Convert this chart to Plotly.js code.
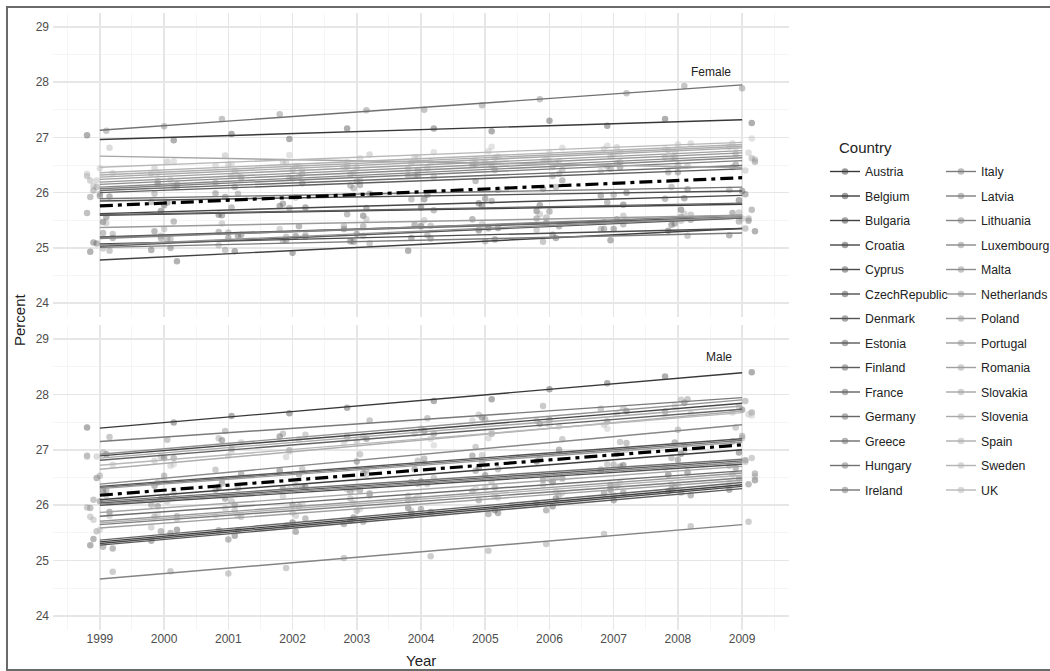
<!DOCTYPE html>
<html>
<head>
<meta charset="utf-8">
<script src="https://cdn.plot.ly/plotly-3.0.1.min.js"></script>
<style>
html,body{margin:0;padding:0;background:#fff;}
#chart{width:1050px;height:671px;}
</style>
</head>
<body>
<div id="chart"></div>
<script>
// ---------------- DATA ----------------
const years = [1999, 2000, 2001, 2002, 2003, 2004, 2005, 2006, 2007, 2008, 2009];
const yTicks = [24, 25, 26, 27, 28, 29];
const countries = ["Austria","Belgium","Bulgaria","Croatia","Cyprus","CzechRepublic","Denmark","Estonia","Finland","France","Germany","Greece","Hungary","Ireland","Italy","Latvia","Lithuania","Luxembourg","Malta","Netherlands","Poland","Portugal","Romania","Slovakia","Slovenia","Spain","Sweden","UK"];

// fitted trend line per country, value at 1999 and at 2009
const femaleFit1999 = [26.96,25.59,24.78,25.62,25.07,25.85,25.20,25.03,26.00,25.60,25.19,26.04,27.13,25.89,25.01,26.07,25.17,26.10,26.15,25.05,26.19,25.37,26.24,26.66,26.28,26.32,26.36,26.46];
const femaleFit2009 = [27.32,25.79,25.35,25.95,25.35,26.03,25.56,25.54,26.43,25.81,25.54,26.49,27.95,26.10,25.27,26.58,25.59,26.63,26.67,25.56,26.72,25.59,26.76,26.45,26.81,26.84,26.87,26.91];
const maleFit1999 = [27.39,26.10,25.34,26.89,25.31,26.00,26.34,25.28,26.04,26.81,25.37,25.80,26.32,26.07,27.15,25.65,24.67,26.38,26.02,26.92,25.71,26.30,25.59,25.87,26.85,26.65,25.68,26.72];
const maleFit2009 = [28.39,27.00,26.37,27.84,26.34,26.74,27.20,26.30,26.80,27.73,26.41,26.62,27.17,26.83,27.94,26.49,25.65,27.45,26.77,27.90,26.58,27.14,26.45,26.70,27.79,27.70,26.54,27.67];

// overall (mean) trend line, 1999 and 2009
const femaleMeanFit = [25.76, 26.27];
const maleMeanFit = [26.18, 27.09];

// observed values, one row per country (1999..2009)
const femaleValues = [
 [27.04,26.95,27.06,26.97,27.16,27.16,27.11,27.30,27.21,27.33,27.26],
 [25.47,25.67,25.60,25.73,25.58,25.73,25.81,25.67,25.78,25.69,25.86],
 [24.93,24.76,24.94,24.91,25.12,24.95,25.15,25.24,25.14,25.31,25.30],
 [25.56,25.77,25.59,25.76,25.72,25.88,25.77,25.77,26.00,25.90,26.03],
 [25.10,24.96,25.22,25.21,25.11,25.18,25.36,25.18,25.34,25.42,25.23],
 [25.93,25.82,25.92,25.80,25.98,25.96,25.89,26.07,25.95,26.06,25.97],
 [25.08,25.30,25.24,25.39,25.25,25.42,25.52,25.39,25.52,25.44,25.63],
 [25.18,25.00,25.18,25.14,25.34,25.17,25.37,25.45,25.34,25.51,25.49],
 [25.94,26.16,25.99,26.17,26.14,26.31,26.21,26.22,26.46,26.37,26.51],
 [25.63,25.48,25.73,25.72,25.61,25.68,25.85,25.66,25.82,25.89,25.69],
 [25.27,25.18,25.29,25.20,25.39,25.39,25.33,25.53,25.43,25.56,25.48],
 [25.92,26.15,26.10,26.26,26.13,26.31,26.41,26.30,26.43,26.37,26.56],
 [27.12,27.20,27.33,27.42,27.49,27.50,27.58,27.69,27.80,27.93,27.89],
 [26.04,25.83,25.98,25.91,26.08,25.88,26.05,26.10,25.96,26.10,26.05],
 [24.95,25.16,24.96,25.13,25.08,25.23,25.12,25.11,25.34,25.22,25.35],
 [26.10,25.98,26.26,26.28,26.20,26.30,26.50,26.34,26.53,26.63,26.46],
 [25.25,25.16,25.28,25.20,25.40,25.40,25.35,25.55,25.47,25.60,25.53],
 [25.98,26.21,26.18,26.34,26.22,26.41,26.52,26.41,26.55,26.50,26.70],
 [26.30,26.12,26.30,26.27,26.47,26.29,26.49,26.57,26.47,26.64,26.62],
 [24.99,25.22,25.05,25.24,25.22,25.40,25.31,25.33,25.58,25.49,25.64],
 [26.22,26.10,26.39,26.41,26.33,26.43,26.63,26.47,26.66,26.77,26.60],
 [25.45,25.34,25.44,25.34,25.52,25.50,25.43,25.61,25.51,25.62,25.53],
 [26.12,26.35,26.31,26.48,26.36,26.54,26.65,26.54,26.69,26.63,26.83],
 [26.81,26.56,26.67,26.56,26.69,26.44,26.56,26.57,26.39,26.49,26.40],
 [26.22,26.45,26.29,26.48,26.46,26.64,26.55,26.57,26.82,26.74,26.89],
 [26.35,26.23,26.51,26.54,26.46,26.55,26.75,26.59,26.79,26.89,26.72],
 [26.44,26.36,26.49,26.41,26.62,26.64,26.60,26.81,26.73,26.87,26.81],
 [26.34,26.57,26.52,26.68,26.55,26.73,26.83,26.72,26.85,26.79,26.98]
];
const maleValues = [
 [27.40,27.49,27.61,27.66,27.76,27.88,27.91,28.09,28.20,28.32,28.40],
 [26.25,26.11,26.33,26.33,26.57,26.43,26.67,26.79,26.72,26.93,26.95],
 [25.28,25.56,25.45,25.69,25.72,25.95,25.91,25.98,26.28,26.25,26.45],
 [26.92,26.85,27.17,27.24,27.20,27.34,27.58,27.47,27.70,27.85,27.72],
 [25.39,25.36,25.55,25.52,25.78,25.85,25.86,26.12,26.09,26.29,26.28],
 [25.88,26.13,26.12,26.30,26.21,26.41,26.54,26.46,26.62,26.59,26.81],
 [26.49,26.35,26.56,26.56,26.79,26.65,26.89,27.00,26.93,27.13,27.15],
 [25.22,25.50,25.38,25.63,25.66,25.88,25.84,25.91,26.22,26.18,26.38],
 [26.07,25.98,26.28,26.33,26.27,26.39,26.62,26.48,26.70,26.82,26.68],
 [26.89,26.85,27.02,26.99,27.24,27.29,27.29,27.54,27.51,27.69,27.67],
 [25.25,25.53,25.55,25.76,25.70,25.93,26.09,26.04,26.23,26.23,26.48],
 [25.95,25.80,26.01,26.01,26.24,26.09,26.32,26.43,26.36,26.56,26.57],
 [26.26,26.53,26.39,26.62,26.63,26.84,26.78,26.84,27.12,27.07,27.25],
 [26.10,26.01,26.31,26.36,26.30,26.42,26.65,26.51,26.73,26.85,26.71],
 [27.23,27.18,27.34,27.29,27.53,27.57,27.55,27.79,27.74,27.91,27.88],
 [25.53,25.79,25.79,25.98,25.90,26.11,26.25,26.18,26.35,26.33,26.56],
 [24.80,24.81,24.77,24.87,25.05,25.08,25.18,25.30,25.48,25.62,25.70],
 [26.53,26.41,26.64,26.66,26.92,26.80,27.05,27.19,27.14,27.36,27.40],
 [25.96,26.22,26.07,26.29,26.29,26.49,26.42,26.47,26.74,26.68,26.85],
 [26.95,26.88,27.21,27.27,27.24,27.38,27.63,27.52,27.75,27.90,27.78],
 [25.79,25.75,25.91,25.87,26.12,26.17,26.16,26.41,26.37,26.54,26.52],
 [26.18,26.44,26.44,26.63,26.55,26.76,26.90,26.83,27.00,26.98,27.21],
 [25.74,25.60,25.81,25.81,26.04,25.90,26.14,26.25,26.18,26.38,26.40],
 [25.81,26.07,25.94,26.16,26.17,26.38,26.32,26.37,26.65,26.60,26.78],
 [26.88,26.80,27.13,27.19,27.16,27.29,27.53,27.42,27.65,27.80,27.67],
 [26.73,26.71,26.89,26.87,27.13,27.20,27.21,27.48,27.45,27.65,27.64],
 [25.56,25.83,25.82,26.02,25.93,26.15,26.30,26.22,26.40,26.37,26.61],
 [26.87,26.74,26.96,26.97,27.21,27.08,27.32,27.45,27.38,27.60,27.62]
];
const panelLabels = ["Female", "Male"];

// ---------------- STYLE / BUILD ----------------
const n = countries.length;
function grey(i) {
  const v = Math.round(255 * (0.22 + 0.5 * i / (n - 1)));
  return `rgb(${v},${v},${v})`;
}
function jitter(c, k) {
  return ((((c * 5 + k * 7) % 9) - 4) * 0.05);
}
const fitYears = [years[0], years[years.length - 1]];

const traces = [];
const panels = [
  {vals: femaleValues, s: femaleFit1999, e: femaleFit2009, mean: femaleMeanFit, xa: 'x2', ya: 'y2'},
  {vals: maleValues, s: maleFit1999, e: maleFit2009, mean: maleMeanFit, xa: 'x', ya: 'y'}
];
panels.forEach(p => {
  for (let c = 0; c < n; c++) {
    traces.push({
      type: 'scatter', mode: 'markers', xaxis: p.xa, yaxis: p.ya,
      x: years.map((y, k) => y + jitter(c, k)), y: p.vals[c],
      marker: {color: grey(c), size: 6.5, opacity: 0.4},
      showlegend: false, legendgroup: countries[c], hoverinfo: 'skip'
    });
  }
});
panels.forEach(p => {
  for (let c = 0; c < n; c++) {
    traces.push({
      type: 'scatter', mode: 'lines', xaxis: p.xa, yaxis: p.ya,
      x: fitYears, y: [p.s[c], p.e[c]],
      line: {color: grey(c), width: 1.4},
      showlegend: false, legendgroup: countries[c], hoverinfo: 'skip'
    });
  }
});
panels.forEach(p => {
  traces.push({
    type: 'scatter', mode: 'lines', xaxis: p.xa, yaxis: p.ya,
    x: fitYears, y: p.mean,
    line: {color: '#000', width: 3.2, dash: '13px,5px,4px,5px'},
    showlegend: false, hoverinfo: 'skip'
  });
});
for (let c = 0; c < n; c++) {
  traces.push({
    type: 'scatter', mode: 'lines+markers', xaxis: 'x', yaxis: 'y',
    x: [null], y: [null], name: countries[c], legendgroup: countries[c],
    legend: c < 14 ? 'legend' : 'legend2',
    line: {color: grey(c), width: 1.4},
    marker: {color: grey(c), size: 6.5, opacity: 0.5}
  });
}

// geometry (pixels)
const FW = 1050, FH = 671;
const L = 53, R = 789, T = 13, B = 630;
const W = R - L, H = B - T;
const px = v => (v - L) / W;
const py = v => (B - v) / H;
const cx = v => v / FW;
const cy = v => 1 - v / FH;

const gridMajor = '#e6e6e6', gridMinor = '#f2f2f2';
const tickFont = {family: 'Liberation Sans, Arial, sans-serif', size: 12, color: '#4d4d4d'};
function xAxis(extra) {
  return Object.assign({
    range: [1998.27, 2009.73], tickvals: years, ticktext: years.map(String),
    showgrid: true, gridcolor: gridMajor, gridwidth: 1.6, zeroline: false, showline: false,
    ticks: '', color: '#4d4d4d', tickfont: tickFont, fixedrange: true, automargin: false,
    minor: {tickvals: years.concat([2010]).map(y => y - 0.5), showgrid: true, gridcolor: gridMinor, gridwidth: 0.8}
  }, extra);
}
function yAxis(extra) {
  return Object.assign({
    range: [23.75, 29.25], tickvals: yTicks, ticktext: yTicks.map(String),
    showgrid: true, gridcolor: gridMajor, gridwidth: 1.6, zeroline: false, showline: false,
    ticks: '', color: '#4d4d4d', tickfont: tickFont, fixedrange: true, automargin: false, ticklabelstandoff: 3,
    minor: {tickvals: yTicks.slice(0, -1).map(v => v + 0.5), showgrid: true, gridcolor: gridMinor, gridwidth: 0.8}
  }, extra);
}

const textFont = {family: 'Liberation Sans, Arial, sans-serif', color: '#222'};
const legendCommon = {
  xref: 'container', yref: 'container', maxheight: 600,
  xanchor: 'left', yanchor: 'top', bgcolor: 'rgba(0,0,0,0)', borderwidth: 0,
  font: {family: 'Liberation Sans, Arial, sans-serif', size: 12.3, color: '#222'},
  tracegroupgap: 5.5, itemclick: false, itemdoubleclick: false
};

const layout = {
  width: FW, height: FH,
  margin: {l: L, r: FW - R, t: T, b: FH - B, autoexpand: false},
  paper_bgcolor: '#fff', plot_bgcolor: '#fff',
  showlegend: true,
  xaxis: xAxis({anchor: 'y', domain: [0, 1]}),
  xaxis2: xAxis({anchor: 'y2', domain: [0, 1], matches: 'x', showticklabels: false}),
  yaxis: yAxis({domain: [0, py(325)]}),
  yaxis2: yAxis({domain: [py(317), 1]}),
  legend: Object.assign({x: cx(825), y: cy(157)}, legendCommon),
  legend2: Object.assign({x: cx(941), y: cy(157)}, legendCommon),
  annotations: [
    {xref: 'x2', yref: 'y2', x: 2008.51, y: 28.19, text: panelLabels[0], showarrow: false,
     xanchor: 'center', yanchor: 'middle', font: Object.assign({size: 12}, textFont)},
    {xref: 'x', yref: 'y', x: 2008.64, y: 28.68, text: panelLabels[1], showarrow: false,
     xanchor: 'center', yanchor: 'middle', font: Object.assign({size: 12}, textFont)},
    {xref: 'paper', yref: 'paper', x: px(421), y: py(660), text: 'Year', showarrow: false,
     xanchor: 'center', yanchor: 'middle', font: Object.assign({size: 15}, textFont)},
    {xref: 'paper', yref: 'paper', x: px(19), y: py(320), text: 'Percent', showarrow: false, textangle: -90,
     xanchor: 'center', yanchor: 'middle', font: Object.assign({size: 15}, textFont)},
    {xref: 'paper', yref: 'paper', x: px(837), y: py(147), xanchor: 'left', yanchor: 'middle', text: 'Country', showarrow: false,
     font: Object.assign({size: 15}, textFont)}
  ],
  shapes: [
    {type: 'rect', xref: 'paper', yref: 'paper', x0: px(7), x1: px(1070), y0: py(670), y1: py(7),
     line: {color: '#6a6a6a', width: 2}, fillcolor: 'rgba(0,0,0,0)', layer: 'above'}
  ]
};

Plotly.newPlot('chart', traces, layout, {displayModeBar: false, staticPlot: true});
</script>
</body>
</html>
